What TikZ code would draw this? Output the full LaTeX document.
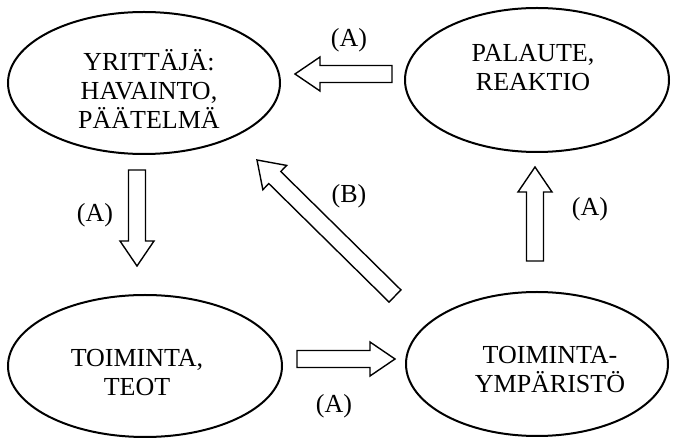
\documentclass[tikz,border=0pt]{standalone}
\usepackage{fontspec}
\setmainfont{Liberation Serif}
\usetikzlibrary{calc,shapes.geometric}
\tikzset{
  state/.style={draw, ellipse, line width=2pt, inner sep=0pt},
  lbl/.style={font=\fontsize{26}{29}\selectfont, align=center, inner sep=0pt},
  blk/.style={draw, line width=1.4pt, fill=white, line join=miter},
}
\newcommand{\blockarrow}[2]{%
  \coordinate (ba-c) at ($(#2)!25pt!(#1)$);
  \draw[blk] ($(#1)!8.5pt!90:(#2)$) -- ($(ba-c)!8.5pt!90:(#2)$) -- ($(ba-c)!17pt!90:(#2)$) -- (#2)
    -- ($(ba-c)!17pt!-90:(#2)$) -- ($(ba-c)!8.5pt!-90:(#2)$) -- ($(#1)!8.5pt!-90:(#2)$) -- cycle;
}
\begin{document}
\begin{tikzpicture}[x=1pt,y=-1pt]
\useasboundingbox (0,0) rectangle (673,438);
% ellipses
\node[state, minimum width=272pt, minimum height=142pt] (e1) at (144,83) {};
\node[state, minimum width=264pt, minimum height=144pt] (e2) at (537,80) {};
\node[state, minimum width=274pt, minimum height=142pt] (e3) at (145,366) {};
\node[state, minimum width=262pt, minimum height=144pt] (e4) at (537,364) {};
% texts
\node[lbl] (t1) at (149,89) {YRITTÄJÄ:\\HAVAINTO,\\PÄÄTELMÄ};
\node[lbl] (t2) at (533,68) {PALAUTE,\\REAKTIO};
\node[lbl] (t3) at (137,373) {TOIMINTA,\\TEOT};
\node[lbl] (t4) at (550,370) {TOIMINTA-\\YMPÄRISTÖ};
% arrow end points
\coordinate (a1s) at (392,74);  \coordinate (a1e) at (295,74);
\coordinate (a2s) at (137,170); \coordinate (a2e) at (137,266);
\coordinate (a3s) at (535,261); \coordinate (a3e) at (535,167);
\coordinate (a4s) at (297,359); \coordinate (a4e) at (395,359);
\coordinate (a5s) at (395,296); \coordinate (a5e) at (257,160);
\blockarrow{a1s}{a1e}
\blockarrow{a2s}{a2e}
\blockarrow{a3s}{a3e}
\blockarrow{a4s}{a4e}
\blockarrow{a5s}{a5e}
% labels
\node[lbl] (l1) at (349,40) {(A)};
\node[lbl] (l2) at (95,215) {(A)};
\node[lbl] (l3) at (349,196) {(B)};
\node[lbl] (l4) at (590,209) {(A)};
\node[lbl] (l5) at (334,406) {(A)};
\end{tikzpicture}
\end{document}
